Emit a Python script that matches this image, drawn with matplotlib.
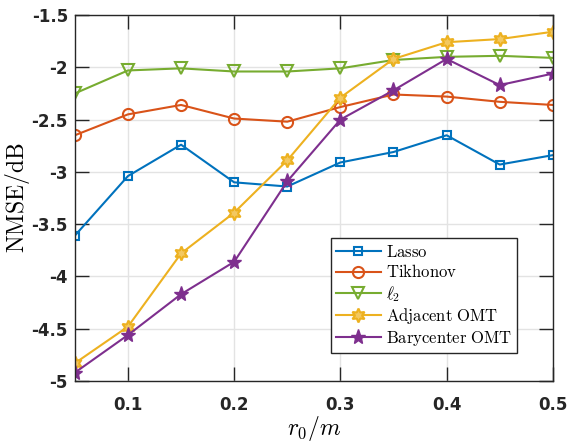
import matplotlib
matplotlib.use('Agg')
import matplotlib.pyplot as plt

plt.rcParams['mathtext.fontset'] = 'cm'

r0 = [0.05, 0.10, 0.15, 0.20, 0.25, 0.30, 0.35, 0.40, 0.45, 0.50]

lasso = [-3.61, -3.04, -2.74, -3.10, -3.14, -2.91, -2.81, -2.65, -2.93, -2.84]
tikhonov = [-2.65, -2.45, -2.36, -2.49, -2.52, -2.38, -2.26, -2.28, -2.33, -2.36]
l2 = [-2.25, -2.03, -2.01, -2.04, -2.04, -2.01, -1.93, -1.90, -1.89, -1.91]
adjacent = [-4.83, -4.48, -3.78, -3.39, -2.89, -2.29, -1.92, -1.76, -1.73, -1.66]
barycenter = [-4.92, -4.56, -4.17, -3.86, -3.09, -2.50, -2.22, -1.92, -2.17, -2.06]

xticks = [0.1, 0.2, 0.3, 0.4, 0.5]
yticks = [-5, -4.5, -4, -3.5, -3, -2.5, -2, -1.5]

fig = plt.figure(figsize=(5.67, 4.42), dpi=100)
ax = fig.add_axes([0.132, 0.138, 0.843, 0.828])

lw = 1.5
ax.plot(r0, lasso, color='#0072BD', marker='s', mfc='none', ms=6, mew=1.5, lw=lw,
        label=r'$\mathrm{Lasso}$')
ax.plot(r0, tikhonov, color='#D95319', marker='o', mfc='none', ms=8, mew=1.5, lw=lw,
        label=r'$\mathrm{Tikhonov}$')
ax.plot(r0, l2, color='#77AC30', marker='v', mfc='none', ms=9, mew=1.5, lw=lw,
        label=r'$\ell_2$')
ax.plot(r0, adjacent, color='#EDB120', marker=(6, 1, 0), mfc='#F3C860', ms=10, mew=1.5, lw=lw,
        label=r'$\mathrm{Adjacent\ OMT}$')
ax.plot(r0, barycenter, color='#7E2F8E', marker='*', ms=11, mew=1.0, lw=lw,
        label=r'$\mathrm{Barycenter\ OMT}$')

ax.set_xlim(0.05, 0.5)
ax.set_ylim(-5, -1.5)
ax.set_xticks(xticks)
ax.set_yticks(yticks)
ax.set_xticklabels(['0.1', '0.2', '0.3', '0.4', '0.5'], fontweight='bold', fontsize=12)
ax.set_yticklabels(['-5', '-4.5', '-4', '-3.5', '-3', '-2.5', '-2', '-1.5'],
                   fontweight='bold', fontsize=12)
ax.tick_params(direction='in', top=True, right=True, length=10, width=1.0,
               color='#262626', labelcolor='#262626')
ax.tick_params(axis='x', pad=11)
ax.tick_params(axis='y', pad=5)
ax.grid(True, color='#E3E3E3', lw=1.0)
ax.set_axisbelow(True)
for s in ax.spines.values():
    s.set_color('#262626')
    s.set_linewidth(1.0)

ax.set_xlabel(r'$r_0/m$', fontsize=17, labelpad=0)
ax.set_ylabel(r'$\mathrm{NMSE/dB}$', fontsize=17, labelpad=0)

leg = ax.legend(loc='lower right', bbox_to_anchor=(0.925, 0.077), fontsize=12,
                fancybox=False, edgecolor='#262626', framealpha=1,
                handlelength=2.7, handletextpad=0.3, labelspacing=0.15,
                borderpad=0.3, borderaxespad=0)
leg.get_frame().set_linewidth(1.0)

fig.savefig('out.png', dpi=100)
